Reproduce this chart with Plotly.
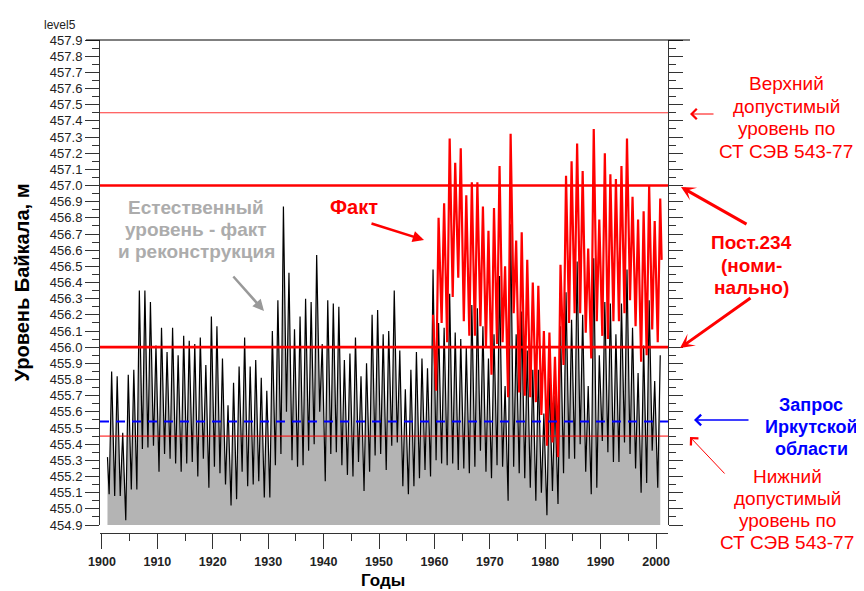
import plotly.graph_objects as go

# Annual troughs (spring) and peaks (autumn) of Lake Baikal level, m
years = list(range(1901, 2001))
natural_low = [
    455.09, 455.08, 455.08, 454.93, 455.12, 455.12, 455.37, 455.38, 455.39, 455.23,
    455.34, 455.31, 455.28, 455.23, 455.28, 455.29, 455.20, 455.31, 455.13, 455.26,
    455.22, 455.15, 455.02, 455.06, 455.23, 455.14, 455.15, 455.17, 455.07, 455.07,
    455.27, 455.34, 455.60, 455.30, 455.26, 455.27, 455.36, 455.40, 455.60, 455.17,
    455.34, 455.35, 455.27, 455.21, 455.20, 455.29, 455.11, 455.23, 455.33, 455.34,
    455.24, 455.39, 455.41, 455.14, 455.09, 455.14, 455.19, 455.24, 455.20, 455.30,
    455.28, 455.27, 455.28, 455.24, 455.25, 455.22, 455.26, 455.36, 455.23, 455.19,
    455.27, 455.26, 455.05, 455.26, 455.22, 455.19, 455.13, 455.05, 455.10, 454.96,
    455.11, 455.03, 455.22, 455.31, 455.31, 455.40, 455.23, 455.09, 455.13, 455.42,
    455.35, 455.29, 455.29, 455.41, 455.34, 455.25, 455.10, 455.16, 455.36, 455.13,
]
natural_high = [
    455.85, 455.82, 455.47, 455.83, 455.86, 456.35, 456.35, 456.28, 456.01, 456.12,
    455.97, 456.12, 455.95, 456.07, 456.04, 456.02, 456.06, 455.89, 456.19, 456.13,
    455.93, 455.64, 455.78, 455.88, 456.06, 455.88, 455.92, 455.81, 455.73, 456.10,
    456.29, 456.87, 456.46, 456.11, 456.19, 456.30, 456.28, 456.57, 456.02, 456.29,
    456.27, 456.25, 455.92, 455.96, 456.06, 455.82, 455.90, 456.20, 456.23, 456.08,
    456.10, 456.35, 455.98, 455.74, 455.86, 455.97, 455.93, 455.87, 456.48, 456.15,
    456.12, 456.33, 456.09, 456.05, 456.00, 456.26, 456.24, 456.13, 455.93, 456.08,
    456.44, 455.76, 456.76, 456.08, 456.22, 455.98, 455.86, 455.86, 455.59, 455.81,
    455.70, 456.13, 456.34, 456.17, 456.53, 456.20, 455.76, 456.55, 455.95, 456.28,
    456.27, 456.08, 456.27, 456.48, 456.12, 455.84, 456.01, 456.29, 455.79, 455.95,
]
natural_start = 455.32

fact_years = list(range(1960, 2001))
fact_low = [
    455.73, 456.15, 456.03, 456.31, 456.43, 456.16, 456.07, 456.07, 456.13, 456.00,
    455.83, 456.02, 456.03, 455.69, 456.21, 455.72, 455.70, 455.69, 455.66, 455.58,
    455.39, 455.41, 455.32, 455.89, 456.15, 456.21, 456.21, 456.09, 455.93, 456.16,
    456.07, 456.05, 456.16, 456.16, 456.21, 456.29, 456.13, 455.91, 455.95, 456.11,
    456.03,
]
fact_high = [
    456.80, 456.89, 457.29, 457.14, 457.23, 456.94, 457.02, 457.02, 456.87, 456.72,
    456.86, 457.12, 456.50, 457.32, 456.66, 456.71, 456.54, 456.40, 456.38, 456.10,
    456.09, 455.94, 456.51, 457.06, 457.15, 457.26, 457.09, 456.61, 457.35, 456.79,
    457.20, 457.07, 457.04, 457.12, 457.29, 456.93, 456.79, 456.84, 457.00, 456.78,
    456.92,
]
fact_start = 456.20
fact_end = 456.54

# reference levels
upper_limit = 457.45
rule_234 = [457.0, 456.0]
irkutsk_request = 455.54
lower_limit = 455.45

LOW_T, HIGH_T = 0.3, 0.75  # time of year of minimum / maximum


def seasonal(yrs, lows, highs):
    xs, ys = [], []
    for y, lo, hi in zip(yrs, lows, highs):
        xs += [y + LOW_T, y + HIGH_T]
        ys += [lo, hi]
    return xs, ys


nat_x, nat_y = seasonal(years, natural_low, natural_high)
nat_x = [years[0]] + nat_x
nat_y = [natural_start] + nat_y

fact_x, fact_y = seasonal(fact_years, fact_low, fact_high)
fact_x = [fact_years[0] - 1 + HIGH_T] + fact_x + [fact_years[-1] + 1]
fact_y = [fact_start] + fact_y + [fact_end]

FONT = 'Arial, Liberation Sans, sans-serif'
# plot frame in page pixels; the page body adds an 8px offset
OFF = 8
W, H = 864 - OFF, 591 - OFF
L, R, T, B = 100, 668, 40, 533


def px(x):
    return (x - L) / (R - L)


def py(y):
    return (B - y) / (B - T)


fig = go.Figure()

fig.add_trace(go.Scatter(
    x=nat_x, y=nat_y, mode='lines',
    line=dict(color='black', width=1.2),
    fill='tozeroy', fillcolor='#b4b4b4',
    hoverinfo='skip'
))

fig.add_trace(go.Scatter(
    x=fact_x, y=fact_y, mode='lines',
    line=dict(color='#ff0000', width=2.2),
    hoverinfo='skip'
))

# horizontal level lines
fig.add_shape(type='line', xref='paper', yref='y', x0=0, x1=1,
              y0=upper_limit, y1=upper_limit, layer='above',
              line=dict(color='#ff3333', width=1))
for lvl in rule_234:
    fig.add_shape(type='line', xref='paper', yref='y', x0=0, x1=1,
                  y0=lvl, y1=lvl, layer='above',
                  line=dict(color='#ff0000', width=2.6))
fig.add_shape(type='line', xref='paper', yref='y', x0=0, x1=1,
              y0=irkutsk_request, y1=irkutsk_request, layer='above',
              line=dict(color='#0000ff', width=2, dash='9px,7px'))
fig.add_shape(type='line', xref='paper', yref='y', x0=0, x1=1,
              y0=lower_limit, y1=lower_limit, layer='above',
              line=dict(color='#ff0000', width=1))

# top border line
fig.add_shape(type='line', xref='paper', yref='paper',
              x0=px(86), x1=px(690), y0=1, y1=1,
              line=dict(color='black', width=1))


def text_block(lines, cx, ys, color, size, bold=False, pad=1):
    for line, yy in zip(lines, ys):
        fig.add_annotation(
            x=px(cx), y=py(yy), xref='paper', yref='paper',
            text=f'<b>{line}</b>' if bold else line,
            showarrow=False, xanchor='center', yanchor='middle',
            borderpad=pad,
            font=dict(family=FONT, size=size, color=color)
        )


def arrow(tail, head, color, width, head_style, size):
    fig.add_annotation(
        x=px(head[0]), y=py(head[1]), xref='paper', yref='paper',
        ax=tail[0] - head[0], ay=tail[1] - head[1],
        text='', showarrow=True, arrowhead=head_style,
        arrowsize=size, arrowwidth=width, arrowcolor=color, standoff=0
    )


text_block(['Естественный', 'уровень - факт', 'и реконструкция'],
           196, [207, 229, 251], '#acacac', 19, bold=True)
arrow((232, 275), (264, 311), '#999999', 2.5, 2, 0.9)

text_block(['Факт'], 354, [207], '#ff0000', 20, bold=True)
arrow((370, 223), (424, 240), '#ff0000', 2.5, 2, 0.9)

text_block(['Верхний', 'допустимый', 'уровень по', 'СТ СЭВ 543-77'],
           786, [83, 106, 129, 151], '#ff0000', 19)
arrow((715, 114), (690, 114), '#ff0000', 1, 4, 2)

text_block(['Пост.234', '(номи-', 'нально)'],
           751, [242, 265, 287], '#ff0000', 19, bold=True)
arrow((748, 225), (681, 187), '#ff0000', 3, 3, 0.8)
arrow((752, 297), (680, 348), '#ff0000', 3, 3, 0.8)

text_block(['Запрос', 'Иркутской', 'области'],
           811, [405, 427, 449], '#0000ff', 18, bold=True)
arrow((750, 420), (694, 420), '#0000ff', 1.5, 4, 1.4)

text_block(['Нижний', 'допустимый', 'уровень по', 'СТ СЭВ 543-77'],
           787, [476, 498, 520, 542], '#ff0000', 19)
arrow((726, 475), (690, 437), '#ff0000', 1, 4, 2)

# x axis title
text_block(['Годы'], 383, [580], 'black', 17, bold=True, pad=0)

fig.add_annotation(x=px(42), y=py(16), xref='paper', yref='paper',
                   text='level5', showarrow=False,
                   font=dict(family=FONT, size=12, color='#222222'))

fig.update_layout(
    width=W, height=H,
    margin=dict(l=L - OFF, r=W - (R - OFF), t=T - OFF, b=H - (B - OFF)),
    paper_bgcolor='white', plot_bgcolor='white',
    showlegend=False,
    font=dict(family=FONT, color='#222222'),
    xaxis=dict(
        range=[1899.65, 2002.15], domain=[0, 1],
        anchor='free', position=0, automargin=False,
        showline=True, linecolor='#333333', linewidth=1,
        ticks='outside', ticklen=15, tickcolor='#333333',
        tick0=1900, dtick=10,
        minor=dict(dtick=5, ticks='outside', ticklen=7, tickcolor='#333333'),
        showgrid=False, zeroline=False, ticklabelstandoff=2,
        tickfont=dict(family=FONT, size=12.5, color='#222222', weight='bold')
    ),
    yaxis=dict(
        range=[454.9, 457.9], domain=[(B - 525) / (B - T), 1],
        automargin=False,
        showline=True, linecolor='#333333', linewidth=1, mirror='ticks',
        ticks='outside', ticklen=14, tickcolor='#333333',
        tick0=454.9, dtick=0.1, tickformat='.1f',
        minor=dict(dtick=0.05, ticks='outside', ticklen=7, tickcolor='#333333'),
        showgrid=False, zeroline=False,
        tickfont=dict(family=FONT, size=13, color='#222222'),
        title=dict(text='<b>Уровень Байкала, м</b>', standoff=14,
                   font=dict(family=FONT, size=20, color='black'))
    )
)

fig.write_html('out.html')
